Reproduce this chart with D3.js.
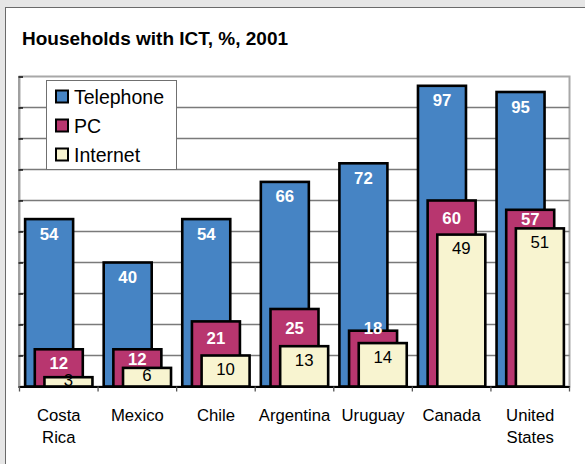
<!DOCTYPE html>
<html>
<head>
<meta charset="utf-8">
<script src="https://cdn.jsdelivr.net/npm/d3@7"></script>
<style>
  html, body { margin: 0; padding: 0; background: #e6e6e6; }
  svg { display: block; font-family: "Liberation Sans", Arial, sans-serif; }
</style>
</head>
<body>
<svg id="chart" width="585" height="464"></svg>
<script>
// Share of households with each technology, 2001
const categories = ["Costa Rica", "Mexico", "Chile", "Argentina", "Uruguay", "Canada", "United States"];
const telephone = [54, 40, 54, 66, 72, 97, 95];
const pc = [12, 12, 21, 25, 18, 60, 57];
const internet = [3, 6, 10, 13, 14, 49, 51];
const seriesNames = ["Telephone", "PC", "Internet"];
const yTicks = [0, 10, 20, 30, 40, 50, 60, 70, 80, 90, 100];
const title = "Households with ICT, %, 2001";

const colors = { Telephone: "#4684c4", PC: "#b8366f", Internet: "#f8f4d0" };

const svg = d3.select("#chart");

// panel
svg.append("rect").attr("x", 0).attr("y", 0).attr("width", 585).attr("height", 464).attr("fill", "#e6e6e6");
svg.append("rect").attr("x", 5.5).attr("y", 7.5).attr("width", 600).attr("height", 470)
  .attr("fill", "#fff").attr("stroke", "#6a6a6a").attr("stroke-width", 1);

svg.append("text").attr("x", 22).attr("y", 45)
  .attr("font-size", 19).attr("font-weight", "bold").attr("fill", "#000").text(title);

const plot = { left: 19.5, right: 569.5, top: 76.5, bottom: 386.5 };

const x = d3.scaleBand().domain(categories).range([plot.left, plot.right]).padding(0);
const y = d3.scaleLinear().domain([0, 100]).range([plot.bottom, plot.top]);

// plot area border
svg.append("rect").attr("x", plot.left).attr("y", plot.top)
  .attr("width", plot.right - plot.left).attr("height", plot.bottom - plot.top)
  .attr("fill", "#fff").attr("stroke", "#a8a8a8").attr("stroke-width", 2);

// gridlines
svg.append("g").selectAll("line").data(yTicks.filter(t => t > 0 && t < 100)).join("line")
  .attr("x1", plot.left).attr("x2", plot.right)
  .attr("y1", d => y(d)).attr("y2", d => y(d))
  .attr("stroke", "#7a7a7a").attr("stroke-width", 1.3);

// value axis: light line with short dark inward ticks
const yAxis = svg.append("g").attr("transform", `translate(${plot.left - 1},0)`)
  .call(d3.axisRight(y).tickValues(yTicks).tickSize(4.5).tickFormat(""));
yAxis.select("path").attr("stroke", "#a0a0a0").attr("stroke-width", 2);
yAxis.selectAll("line").attr("stroke", "#000").attr("stroke-width", 1.3);

// category axis
const xAxis = svg.append("g").attr("transform", `translate(0,${plot.bottom})`)
  .call(d3.axisBottom(x).tickSize(0).tickFormat(""));
xAxis.select("path").attr("stroke", "#000").attr("stroke-width", 2);
xAxis.selectAll(".tick").remove();
const bounds = categories.map(c => x(c)).concat([plot.right]);
svg.append("g").selectAll("line").data(bounds).join("line")
  .attr("x1", d => d).attr("x2", d => d)
  .attr("y1", plot.bottom).attr("y2", plot.bottom + 5)
  .attr("stroke", "#555").attr("stroke-width", 1.3);

// category labels
const catLabels = svg.append("g").attr("font-size", 16.7).attr("fill", "#000").attr("text-anchor", "middle");
categories.forEach(c => {
  const words = c.split(" ");
  words.forEach((w, i) => {
    catLabels.append("text").attr("x", x(c) + x.bandwidth() / 2).attr("y", 420.5 + i * 22.5).text(w);
  });
});

// overlapping bars
const bw = x.bandwidth();
const barW = bw * 0.63 - 1.5;
const step = bw * 0.123;
const rows = categories.map((c, i) => ({ c, Telephone: telephone[i], PC: pc[i], Internet: internet[i] }));

seriesNames.forEach((s, si) => {
  svg.append("g").selectAll("rect").data(rows).join("rect")
    .attr("x", d => x(d.c) + bw / 2 + (si - 1) * step - barW / 2)
    .attr("y", d => y(d[s]))
    .attr("width", barW)
    .attr("height", d => y(0) - y(d[s]))
    .attr("fill", colors[s]).attr("stroke", "#000").attr("stroke-width", 2.6);
});

// value labels
const labels = svg.append("g").attr("font-size", 16.8).attr("text-anchor", "middle");
const cx = (d, si) => x(d.c) + bw / 2 + (si - 1) * step;
const base = 6;
rows.forEach(d => {
  const tTop = y(d.Telephone), pTop = y(d.PC), iTop = y(d.Internet);
  labels.append("text").attr("x", cx(d, 0)).attr("y", tTop + 14.5 + base)
    .attr("fill", "#fff").attr("font-weight", "bold").text(d.Telephone);
  const pc = (iTop - pTop) >= 15 ? (pTop + iTop) / 2 : pTop - 3;
  labels.append("text").attr("x", cx(d, 1)).attr("y", pc + base)
    .attr("fill", "#fff").attr("font-weight", "bold").text(d.PC);
  const ic = Math.min(iTop + 13.5, (iTop + y(0)) / 2 - 2);
  labels.append("text").attr("x", cx(d, 2)).attr("y", ic + base)
    .attr("fill", "#000").text(d.Internet);
});

// legend
const lg = svg.append("g");
lg.append("rect").attr("x", 46.5).attr("y", 80.5).attr("width", 130).attr("height", 89)
  .attr("fill", "#fff").attr("stroke", "#707070").attr("stroke-width", 1);
seriesNames.forEach((s, i) => {
  const cy = 96.5 + i * 29;
  lg.append("rect").attr("x", 56).attr("y", cy - 6).attr("width", 12).attr("height", 12)
    .attr("fill", colors[s]).attr("stroke", "#000").attr("stroke-width", 2);
  lg.append("text").attr("x", 74).attr("y", cy + 7).attr("font-size", 19.5).attr("fill", "#000").text(s);
});
</script>
</body>
</html>
